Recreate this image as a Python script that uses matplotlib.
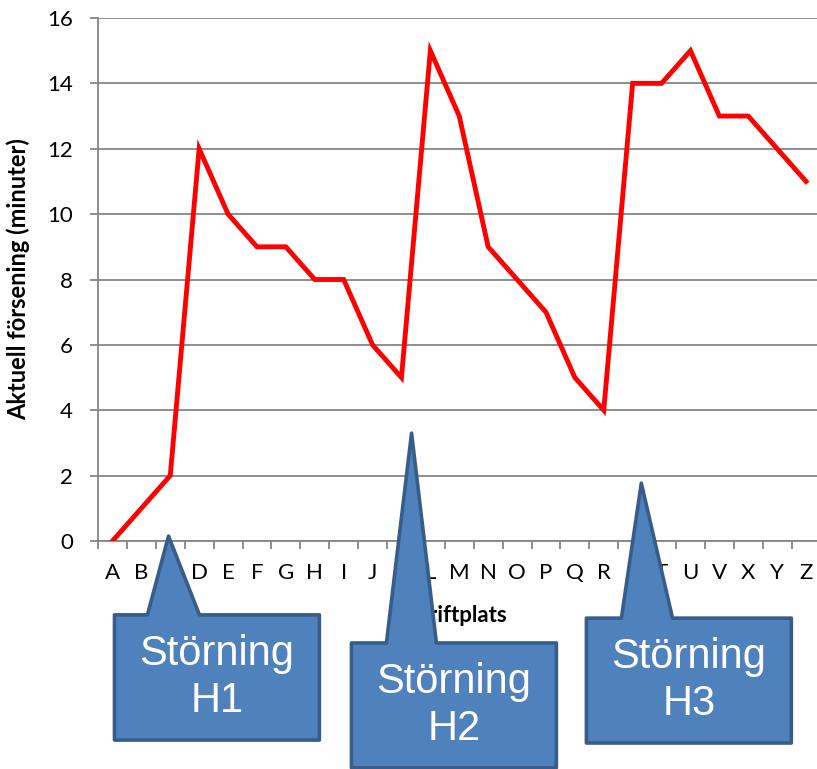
import numpy as np
import matplotlib
matplotlib.use("Agg")
import matplotlib.pyplot as plt
from matplotlib.patches import Polygon

# delay per timing point
stations = list("ABCDEFGHIJKLMNOPQRSTUVXYZ")
delay = [0, 1, 2, 12, 10, 9, 9, 8, 8, 6, 5, 15, 13, 9, 8, 7, 5, 4,
         14, 14, 15, 13, 13, 12, 11]

# callouts: label, pointer tip (category index, minutes), box (x0, x1, y_top, y_bottom), pointer base (xa, xb)
callout_labels = ["Störning\nH1", "Störning\nH2", "Störning\nH3"]
callout_tips = [(1.94, 0.15), (10.35, 3.30), (18.30, 1.77)]
callout_boxes = [(0.07, 7.16, -2.26, -6.09), (8.27, 15.36, -3.12, -6.94), (16.40, 23.49, -2.36, -6.18)]
callout_bases = [(1.21, 3.01), (9.48, 11.21), (17.61, 19.38)]

plt.rcParams['font.family'] = ['Lato', 'DejaVu Sans']

grey = "#868686"
fig = plt.figure(figsize=(8.17, 7.69), dpi=100)
ax = fig.add_axes([98 / 817, 228 / 769, 722.5 / 817, 523 / 769])

x = np.arange(len(stations))
ax.plot(x, delay, color="#ff0000", lw=3.5, solid_joinstyle="miter", zorder=3)

ax.set_xlim(-0.5, len(stations) - 0.5)
ax.set_ylim(0, 16)
ax.set_yticks(range(0, 17, 2))
ax.set_xticks(x)
ax.set_xticklabels(stations)
ax.set_xticks(np.arange(-0.5, len(stations), 1.0), minor=True)
ax.tick_params(axis="x", which="major", length=0, pad=16, labelsize=16)
ax.tick_params(axis="x", which="minor", length=6, width=1.3, color=grey, direction="out")
ax.tick_params(axis="y", length=6, width=1.3, color=grey, pad=12, labelsize=16)

ax.grid(axis="y", color=grey, lw=1.3)
ax.set_axisbelow(True)
for s in ("top", "right"):
    ax.spines[s].set_visible(False)
for s in ("left", "bottom"):
    ax.spines[s].set_color(grey)
    ax.spines[s].set_linewidth(1.3)

ax.set_ylabel("Aktuell försening (minuter)", fontsize=17, fontweight="bold", labelpad=12)
ax.set_xlabel("Driftplats", fontsize=16, fontweight="bold", labelpad=16)

for label, tip, box, base in zip(callout_labels, callout_tips, callout_boxes, callout_bases):
    x0, x1, yt, yb = box
    pts = [(x0, yt), (base[0], yt), tip, (base[1], yt), (x1, yt), (x1, yb), (x0, yb)]
    ax.add_patch(Polygon(pts, closed=True, facecolor="#4f81bd", edgecolor="#385d8a",
                         lw=2.6, joinstyle="round", clip_on=False, zorder=5))
    ax.text((x0 + x1) / 2, (yt + yb) / 2, label, ha="center", va="center",
            color="white", fontsize=30, family=["Liberation Sans", "DejaVu Sans"],
            linespacing=1.25, clip_on=False, zorder=6)

fig.savefig("out.png", dpi=100)
